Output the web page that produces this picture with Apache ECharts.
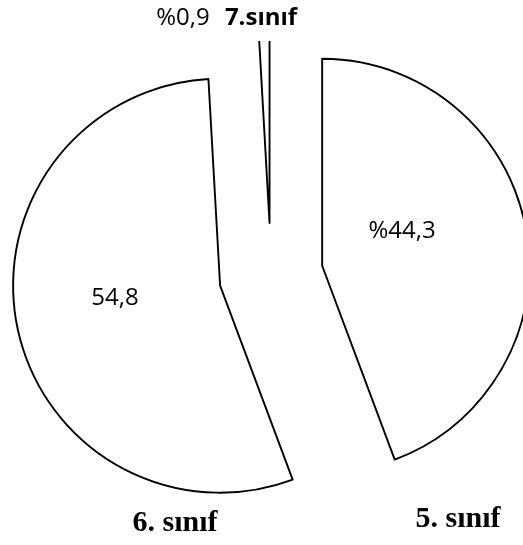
<!DOCTYPE html>
<html>
<head>
<meta charset="utf-8">
<script src="https://cdn.jsdelivr.net/npm/echarts@6/dist/echarts.min.js"></script>
<style>
  html, body { margin: 0; padding: 0; background: #fff; }
  #chart { width: 523px; height: 545px; }
</style>
</head>
<body>
<div id="chart"></div>
<script>
// sınıf dağılımı (%)
const categories = ['5. sınıf', '6. sınıf', '7.sınıf'];
const values = [44.3, 54.8, 0.9];
const valueLabels = ['%44,3', '54,8', '%0,9'];

// label yerleri: [değer x, y, ad x, y]
const labelPos = [
    [402, 231, 458, 519],
    [115, 298, 175, 523],
    [183, 18, 261, 18]
];
const nameFont = [
    'bold 30px "Liberation Serif"',
    'bold 30px "Liberation Serif"',
    'bold 24px "Open Sans"'
];

const chart = echarts.init(document.getElementById('chart'));

const texts = [];
categories.forEach((name, i) => {
    texts.push({
        type: 'text', z: 101,
        x: labelPos[i][0], y: labelPos[i][1],
        style: { text: valueLabels[i], font: '24px "Open Sans"', fill: '#000', align: 'center', verticalAlign: 'middle' }
    });
    texts.push({
        type: 'text', z: 101,
        x: labelPos[i][2], y: labelPos[i][3],
        style: { text: name, font: nameFont[i], fill: '#000', align: 'center', verticalAlign: 'middle' }
    });
});

chart.setOption({
    animation: false,
    series: [{
        type: 'pie',
        center: [271, 275],
        radius: 207,
        startAngle: 90,
        clockwise: true,
        selectedMode: 'multiple',
        selectedOffset: 52,
        silent: true,
        label: { show: false },
        labelLine: { show: false },
        itemStyle: { color: '#fff', borderColor: '#000', borderWidth: 1.9 },
        emphasis: { disabled: true },
        data: categories.map((name, i) => ({ name: name, value: values[i], selected: true }))
    }],
    graphic: [
        // 7.sınıf diliminin üst ucu kesik görünüyor
        { type: 'rect', z: 100, shape: { x: 225, y: 0, width: 90, height: 41 }, style: { fill: '#fff' } }
    ].concat(texts)
});
</script>
</body>
</html>
